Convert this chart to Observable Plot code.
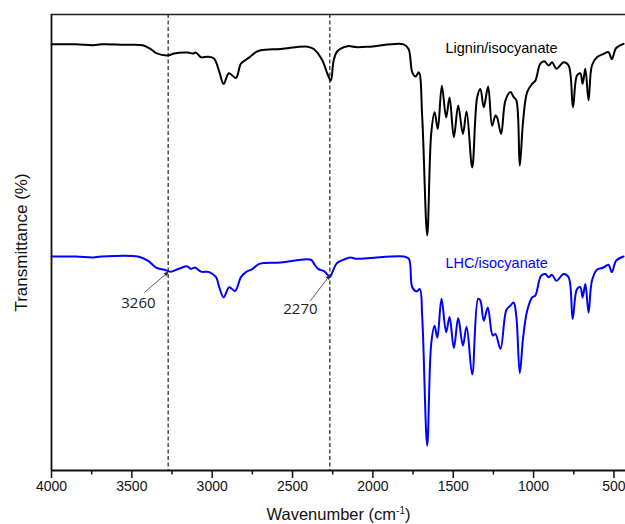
<!DOCTYPE html>
<html><head><meta charset="utf-8">
<script src="https://cdn.jsdelivr.net/npm/d3@7"></script>
<script src="https://cdn.jsdelivr.net/npm/@observablehq/plot@0.6"></script>
<style>body{margin:0;background:#fff}</style>
</head><body><div id="chart"></div>
<script>
// Lignin/isocyanate spectrum (wavenumber, transmittance a.u.)
const ligninWn = [4000,3850,3740,3690,3550,3432,3380,3349,3270,3237,3152,3121,3101,3070,3028,2989,2958,2929,2896,2852,2821,2771,2728,2697,2573,2407,2368,2314,2283,2262,2244,2221,2158,2107,2014,1809,1778,1755,1734,1714,1693,1662,1637,1616,1596,1571,1544,1523,1496,1469,1440,1417,1382,1351,1331,1310,1283,1258,1237,1227,1202,1175,1144,1124,1107,1086,1065,1040,1009,989,958,933,906,885,858,813,782,755,730,709,695,678,658,637,606,565,534,513,486,440];
const ligninT = [93.5,93.5,93.3,93.5,93.4,93.3,92.4,91.6,91.1,91.5,91.7,91.5,91.7,90.7,90.8,90.4,87.8,84.9,87.2,86.2,89.3,90.6,91.8,92.2,92.5,93.0,92.5,90.0,87.1,85.6,90.0,92.0,93.1,92.9,93.0,93.5,92.5,87.4,86.5,87.4,77.6,51.9,74.1,78.7,75.1,84.5,77.6,81.9,73.3,80.2,74.0,78.9,66.7,82.0,83.8,79.8,84.3,75.8,78.0,77.6,74.0,81.3,83.1,82.0,81.3,67.1,76.9,83.1,84.9,85.6,89.3,89.8,88.9,89.6,88.2,89.6,88.9,79.8,86.7,87.2,84.9,88.2,81.3,88.9,90.7,91.4,91.8,90.3,92.7,93.6];

// LHC/isocyanate spectrum
const lhcWn = [4000,3850,3740,3690,3463,3401,3349,3298,3256,3225,3194,3158,3132,3107,3070,3018,2976,2956,2929,2894,2858,2821,2790,2748,2707,2573,2386,2366,2341,2304,2267,2252,2225,2169,2138,2107,2014,1807,1776,1755,1728,1708,1693,1662,1637,1616,1599,1573,1544,1523,1496,1469,1440,1417,1382,1345,1331,1310,1285,1254,1237,1206,1169,1144,1124,1107,1086,1065,1040,1009,989,954,927,906,885,858,813,782,757,730,709,695,678,658,637,606,565,534,513,486,440];
const lhcT = [47.3,47.3,47.1,47.3,47.3,46.4,44.9,44.4,44.0,44.4,44.8,45.2,44.6,44.9,44.0,43.9,42.8,40.6,38.4,40.6,39.8,42.8,43.9,44.6,45.7,46.0,46.6,45.7,44.6,44.1,42.9,43.9,45.8,46.8,47.1,46.8,47.0,47.3,46.8,40.6,39.7,40.2,34.1,6.1,28.3,32.2,29.6,38.1,30.8,34.1,27.4,33.9,27.9,32.0,21.6,38.1,37.7,33.3,36.2,30.1,30.4,27.2,35.7,36.6,37.3,34.1,21.9,29.7,35.5,38.4,38.8,43.1,43.5,42.8,43.3,42.0,43.5,42.8,33.7,40.2,40.6,38.4,41.3,35.1,42.0,44.4,44.9,45.5,43.9,46.4,47.3];

const majorTicks = [4000,3500,3000,2500,2000,1500,1000,500];
const minorTicks = [3750,3250,2750,2250,1750,1250,750];

const seriesNames = ["Lignin/isocyanate", "LHC/isocyanate"];
const seriesColors = ["#000000", "#0000ff"];
const seriesLabelWn = [1548, 1548];
const seriesLabelT = [92.7, 45.8];

const markerWn = [3274, 2268];
const annotLabels = ["3260", "2270"];
const annotLabelWn = [3459, 2451];
const annotLabelT = [37.2, 35.9];
const arrowStartWn = [3421, 2388];
const arrowStartT = [39.5, 37.7];
const arrowEndWn = [3274, 2268];
const arrowEndT = [43.9, 43.2];

const lignin = ligninWn.map((x, i) => ({x, y: ligninT[i]}));
const lhc = lhcWn.map((x, i) => ({x, y: lhcT[i]}));
const seriesLabels = seriesNames.map((name, i) => ({name, x: seriesLabelWn[i], y: seriesLabelT[i], color: seriesColors[i]}));
const annots = annotLabels.map((label, i) => ({label, x: annotLabelWn[i], y: annotLabelT[i],
  x1: arrowStartWn[i], y1: arrowStartT[i], x2: arrowEndWn[i], y2: arrowEndT[i]}));

const plot = Plot.plot({
  width: 625, height: 524,
  marginLeft: 51, marginRight: 0, marginTop: 14, marginBottom: 54,
  style: {fontFamily: "'Liberation Sans', Arial, sans-serif", background: "#fff", color: "#111"},
  x: {domain: [4000, 428]},
  y: {domain: [0.7, 100], axis: null},
  marks: [
    Plot.ruleX(markerWn, {stroke: "#222", strokeWidth: 1.2, strokeDasharray: "4,2.5"}),
    Plot.line(lignin, {x: "x", y: "y", stroke: seriesColors[0], strokeWidth: 2, curve: "catmull-rom"}),
    Plot.line(lhc, {x: "x", y: "y", stroke: seriesColors[1], strokeWidth: 2, curve: "catmull-rom"}),
    Plot.axisX(majorTicks, {tickSize: 8, tickPadding: 3, fontSize: 14, label: null, strokeWidth: 1.5, tickFormat: d => String(d)}),
    Plot.axisX(minorTicks, {tickSize: 4.5, tickFormat: () => "", label: null, strokeWidth: 1.5}),
    Plot.ruleY([0.7], {stroke: "#111", strokeWidth: 1.8}),
    Plot.ruleY([100], {stroke: "#222", strokeWidth: 1.5}),
    Plot.ruleX([4000], {stroke: "#111", strokeWidth: 1.8}),
    Plot.text(seriesLabels, {x: "x", y: "y", text: "name", fill: "color", textAnchor: "start", fontSize: 14.5}),
    Plot.arrow(annots, {x1: "x1", y1: "y1", x2: "x2", y2: "y2", stroke: "#333", fill: "#111", strokeWidth: 0.8, headLength: 8, headAngle: 45}),
    Plot.text(annots, {x: "x", y: "y", text: "label", fontSize: 15, fontFamily: "'Open Sans', sans-serif", fill: "#222"}),
    Plot.text(["Wavenumber (cm-1)"], {frameAnchor: "bottom", lineAnchor: "middle", textAnchor: "middle", dy: 44, fontSize: 16.5, fill: "#111"}),
    Plot.text(["Transmittance (%)"], {frameAnchor: "left", textAnchor: "middle", lineAnchor: "middle", dx: -30, rotate: -90, fontSize: 17, fill: "#111"})
  ]
});

d3.select(plot).selectAll("text").filter(function() { return this.textContent === "Wavenumber (cm-1)"; })
  .each(function() {
    const t = d3.select(this);
    t.text(null);
    t.append("tspan").text("Wavenumber (cm");
    t.append("tspan").attr("dy", -6).attr("font-size", 10).text("-1");
    t.append("tspan").attr("dy", 6).text(")");
  });

document.getElementById("chart").appendChild(plot);
</script>
</body></html>
